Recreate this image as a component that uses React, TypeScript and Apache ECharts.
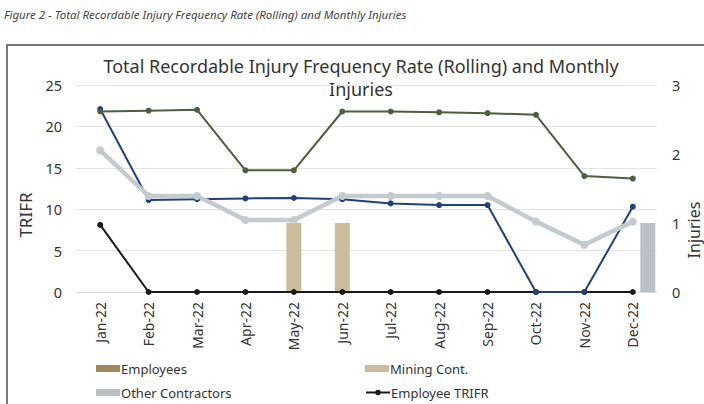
import React, { useEffect, useRef } from "react";
import * as echarts from "echarts";

const months = ["Jan-22", "Feb-22", "Mar-22", "Apr-22", "May-22", "Jun-22", "Jul-22", "Aug-22", "Sep-22", "Oct-22", "Nov-22", "Dec-22"];
const employees: (number | null)[] = [null, null, null, null, null, null, null, null, null, null, null, null];
const miningCont: (number | null)[] = [null, null, null, null, 1, 1, null, null, null, null, null, null];
const otherContractors: (number | null)[] = [null, null, null, null, null, null, null, null, null, null, null, 1];
const employeeTrifr = [8.1, 0, 0, 0, 0, 0, 0, 0, 0, 0, 0, 0];
const miningTrifr = [22.1, 11.1, 11.2, 11.3, 11.35, 11.2, 10.7, 10.5, 10.5, 0, 0, 10.3];
const otherTrifr = [21.8, 21.9, 22.0, 14.7, 14.7, 21.8, 21.8, 21.7, 21.6, 21.4, 14.0, 13.7];
const totalTrifr = [17.1, 11.6, 11.6, 8.7, 8.7, 11.6, 11.6, 11.6, 11.6, 8.5, 5.7, 8.5];
const leftTicks = { min: 0, max: 25, interval: 5 };
const rightTicks = { min: 0, max: 3, interval: 1 };

const FONT = "Noto Sans";
const TXT = "#333333";

function legendAt(name: string, left: number, top: number, icon?: string) {
  return {
    left,
    top,
    itemWidth: 24,
    itemHeight: 7,
    textStyle: { fontFamily: FONT, fontSize: 13, color: TXT, padding: [0, 0, 0, -4] },
    data: [icon ? { name, icon } : { name }],
  };
}

export default function App() {
  const ref = useRef<HTMLDivElement>(null);
  useEffect(() => {
    if (!ref.current) return;
    const chart = echarts.init(ref.current, undefined, { renderer: "svg" });
    chart.setOption({
      animation: false,
      textStyle: { fontFamily: FONT },
      graphic: [
        {
          type: "text",
          left: 4,
          top: 8,
          style: { text: "Figure 2 - Total Recordable Injury Frequency Rate (Rolling) and Monthly Injuries", fontFamily: FONT, fontSize: 11.5, fontStyle: "italic", fill: "#444" },
        },
        {
          type: "rect",
          shape: { x: 7, y: 45, width: 800, height: 500 },
          style: { fill: "none", stroke: "#777", lineWidth: 2 },
          silent: true,
        },
        {
          type: "text",
          x: 361,
          y: 66,
          style: { text: "Total Recordable Injury Frequency Rate (Rolling) and Monthly", fontFamily: FONT, fontSize: 18, fill: TXT, align: "center", verticalAlign: "middle" },
        },
        {
          type: "text",
          x: 361,
          y: 89,
          style: { text: "Injuries", fontFamily: FONT, fontSize: 18, fill: TXT, align: "center", verticalAlign: "middle" },
        },
        {
          type: "text",
          x: 25,
          y: 215,
          rotation: Math.PI / 2,
          style: { text: "TRIFR", fontFamily: FONT, fontSize: 17, fill: TXT, align: "center", verticalAlign: "middle" },
        },
        {
          type: "text",
          x: 694,
          y: 230,
          rotation: Math.PI / 2,
          style: { text: "Injuries", fontFamily: FONT, fontSize: 16, fill: TXT, align: "center", verticalAlign: "middle" },
        },
      ],
      legend: [
        legendAt("Employees", 91, 357, "rect"),
        legendAt("Mining Cont.", 360, 357, "rect"),
        legendAt("Other Contractors", 91, 381, "rect"),
        legendAt("Employee TRIFR", 360, 381),
      ],
      grid: { left: 76, right: 47, top: 85, bottom: 112, containLabel: false },
      xAxis: {
        type: "category",
        data: months,
        boundaryGap: true,
        axisLine: { lineStyle: { color: "#d9d9d9" } },
        axisTick: { show: false },
        axisLabel: { rotate: 90, color: TXT, fontSize: 14, margin: 10, fontFamily: FONT },
      },
      yAxis: [
        {
          type: "value",
          ...leftTicks,
          axisLine: { show: false },
          axisTick: { show: false },
          axisLabel: { color: TXT, fontSize: 14.5, margin: 14, fontFamily: FONT },
          splitLine: { lineStyle: { color: "#e3e3e3" } },
        },
        {
          type: "value",
          ...rightTicks,
          axisLine: { show: false },
          axisTick: { show: false },
          axisLabel: { color: TXT, fontSize: 14.5, margin: 15, fontFamily: FONT },
          splitLine: { show: false },
        },
      ],
      series: [
        { name: "Employees", type: "bar", yAxisIndex: 1, data: employees, barWidth: 15, barGap: "0%", itemStyle: { color: "#9e8a5c" } },
        { name: "Mining Cont.", type: "bar", yAxisIndex: 1, data: miningCont, barWidth: 15, barGap: "0%", itemStyle: { color: "#c9bd9c" } },
        { name: "Other Contractors", type: "bar", yAxisIndex: 1, data: otherContractors, barWidth: 15, barGap: "0%", itemStyle: { color: "#b9c1c6" } },
        {
          name: "Employee TRIFR", type: "line", data: employeeTrifr, symbol: "circle", symbolSize: 6,
          lineStyle: { color: "#1a1a1a", width: 2 }, itemStyle: { color: "#1a1a1a" },
        },
        {
          name: "Mining Cont. TRIFR", type: "line", data: miningTrifr, symbol: "circle", symbolSize: 6,
          lineStyle: { color: "#22407e", width: 2 }, itemStyle: { color: "#22407e" },
        },
        {
          name: "Total TRIFR", type: "line", data: totalTrifr, symbol: "circle", symbolSize: 8,
          lineStyle: { color: "#c3cbce", width: 4.5 }, itemStyle: { color: "#c3cbce" },
        },
        {
          name: "Other Contractors TRIFR", type: "line", data: otherTrifr, symbol: "circle", symbolSize: 6,
          lineStyle: { color: "#4f5e40", width: 2 }, itemStyle: { color: "#4f5e40" },
        },
      ],
    });
    return () => chart.dispose();
  }, []);
  return <div ref={ref} style={{ width: 704, height: 404, position: "absolute", left: 0, top: 0 }} />;
}
